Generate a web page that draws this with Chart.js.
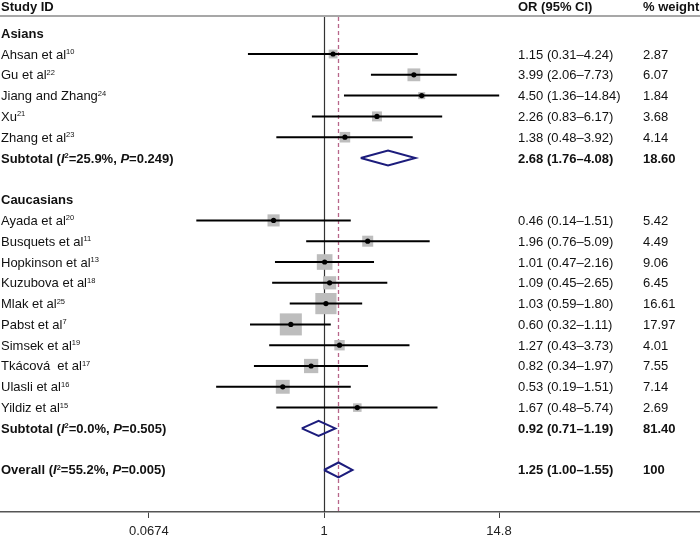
<!DOCTYPE html>
<html>
<head>
<meta charset="utf-8">
<script src="https://cdn.jsdelivr.net/npm/chart.js@4.4.1/dist/chart.umd.min.js"></script>
<style>
  body { margin: 0; background: #fff; }
  #wrap { width: 700px; height: 536px; }
</style>
</head>
<body>
<div id="wrap"><canvas id="canvas" width="700" height="536"></canvas></div>
<script>
// dane
const groups = ['Asians', 'Caucasians'];
const studyNames = ['Ahsan et al', 'Gu et al', 'Jiang and Zhang', 'Xu', 'Zhang et al',
    'Ayada et al', 'Busquets et al', 'Hopkinson et al', 'Kuzubova et al', 'Mlak et al',
    'Pabst et al', 'Simsek et al', 'Tkácová  et al', 'Ulasli et al', 'Yildiz et al'];
const studyRefs = ['10', '22', '24', '21', '23', '20', '11', '13', '18', '25', '7', '19', '17', '16', '15'];
const studyGroup = [0, 0, 0, 0, 0, 1, 1, 1, 1, 1, 1, 1, 1, 1, 1];
const studyOR = [1.15, 3.99, 4.50, 2.26, 1.38, 0.46, 1.96, 1.01, 1.09, 1.03, 0.60, 1.27, 0.82, 0.53, 1.67];
const studyLo = [0.31, 2.06, 1.36, 0.83, 0.48, 0.14, 0.76, 0.47, 0.45, 0.59, 0.32, 0.43, 0.34, 0.19, 0.48];
const studyHi = [4.24, 7.73, 14.84, 6.17, 3.92, 1.51, 5.09, 2.16, 2.65, 1.80, 1.11, 3.73, 1.97, 1.51, 5.74];
const studyWeight = [2.87, 6.07, 1.84, 3.68, 4.14, 5.42, 4.49, 9.06, 6.45, 16.61, 17.97, 4.01, 7.55, 7.14, 2.69];

const subOR = [2.68, 0.92];
const subLo = [1.76, 0.71];
const subHi = [4.08, 1.19];
const subWeight = ['18.60', '81.40'];
const subI2 = ['25.9%', '0.0%'];
const subP = ['0.249', '0.505'];

const overallOR = 1.25;
const overallLo = 1.00;
const overallHi = 1.55;
const overallWeight = '100';
const overallI2 = '55.2%';
const overallP = '0.005';

const tickValues = [0.0674, 1, 14.8];
const tickLabels = ['0.0674', '1', '14.8'];

// uklad wierszy
const rowOf = [], headerRow = [], subRow = [];
let r = 0;
groups.forEach((g, gi) => {
    headerRow[gi] = r++;
    studyGroup.forEach((sg, i) => { if (sg === gi) rowOf[i] = r++; });
    subRow[gi] = r++;
    r++;
});
const overallRow = r;

const FONT = 'Liberation Sans, Arial, Helvetica, sans-serif';
const NAVY = '#1c1c7c';
const DIAMOND_H = 0.36;

function fmt(v) { return v.toFixed(2); }
function ciText(o, l, h) { return fmt(o) + ' (' + fmt(l) + '–' + fmt(h) + ')'; }

// dane do wykresu
let dots = studyOR.map((v, i) => ({x: v, y: rowOf[i]}));
let boxes = studyOR.map((v, i) => ({x: v, y: rowOf[i], w: studyWeight[i]}));
let ciLines = [];
studyOR.forEach((v, i) => {
    ciLines.push({x: studyLo[i], y: rowOf[i]}, {x: studyHi[i], y: rowOf[i]}, {x: v, y: null});
});
function diamond(o, l, h, row) {
    return [{x: l, y: row}, {x: o, y: row - DIAMOND_H}, {x: h, y: row},
            {x: o, y: row + DIAMOND_H}, {x: l, y: row}, {x: o, y: null}];
}
let diamonds = [];
subOR.forEach((v, gi) => { diamonds = diamonds.concat(diamond(v, subLo[gi], subHi[gi], subRow[gi])); });
diamonds = diamonds.concat(diamond(overallOR, overallLo, overallHi, overallRow));

function drawRich(ctx, segs, x, y) {
    segs.forEach(s => {
        let size = s.sup ? 7.5 : 13;
        ctx.font = (s.i ? 'italic ' : '') + (s.b ? 'bold ' : '') + size + 'px ' + FONT;
        ctx.fillText(s.t, x, s.sup ? y - 4.5 : y);
        x += ctx.measureText(s.t).width;
    });
}
function hetSegs(title, i2, p) {
    return [{t: title + ' (', b: 1}, {t: 'I', b: 1, i: 1}, {t: '2', b: 1, sup: 1},
            {t: '=' + i2 + ', ', b: 1}, {t: 'P', b: 1, i: 1}, {t: '=' + p + ')', b: 1}];
}

const forestPlugin = {
    id: 'forestPlugin',
    beforeDatasetsDraw(chart) {
        const {ctx, chartArea, scales: {x}} = chart;
        ctx.save();
        // linia pod naglowkiem
        ctx.strokeStyle = '#8a8a8a';
        ctx.lineWidth = 1.5;
        ctx.beginPath();
        ctx.moveTo(0, chartArea.top - 1);
        ctx.lineTo(chart.width, chartArea.top - 1);
        ctx.stroke();
        // linia OR = 1
        let x1 = Math.round(x.getPixelForValue(1)) + 0.5;
        ctx.strokeStyle = '#333';
        ctx.lineWidth = 1.2;
        ctx.beginPath();
        ctx.moveTo(x1, chartArea.top);
        ctx.lineTo(x1, chartArea.bottom);
        ctx.stroke();
        // linia przerywana - overall
        let xo = Math.round(x.getPixelForValue(overallOR)) + 0.5;
        ctx.strokeStyle = '#b8668a';
        ctx.lineWidth = 1.3;
        ctx.setLineDash([4, 3]);
        ctx.beginPath();
        ctx.moveTo(xo, chartArea.top);
        ctx.lineTo(xo, chartArea.bottom);
        ctx.stroke();
        ctx.restore();
    },
    afterDraw(chart) {
        const {ctx, chartArea, scales: {y}} = chart;
        const colOR = 518, colW = 643;
        const base = row => y.getPixelForValue(row) + 4.5;
        ctx.save();
        ctx.fillStyle = '#111';
        ctx.textBaseline = 'alphabetic';
        // naglowki
        let hb = chartArea.top - 6.5;
        drawRich(ctx, [{t: 'Study ID', b: 1}], 1, hb);
        drawRich(ctx, [{t: 'OR (95% CI)', b: 1}], colOR, hb);
        drawRich(ctx, [{t: '% weight', b: 1}], colW, hb);
        groups.forEach((g, gi) => {
            drawRich(ctx, [{t: g, b: 1}], 1, base(headerRow[gi]));
            drawRich(ctx, hetSegs('Subtotal', subI2[gi], subP[gi]), 1, base(subRow[gi]));
            drawRich(ctx, [{t: ciText(subOR[gi], subLo[gi], subHi[gi]), b: 1}], colOR, base(subRow[gi]));
            drawRich(ctx, [{t: subWeight[gi], b: 1}], colW, base(subRow[gi]));
        });
        studyNames.forEach((n, i) => {
            let b = base(rowOf[i]);
            drawRich(ctx, [{t: n}, {t: studyRefs[i], sup: 1}], 1, b);
            drawRich(ctx, [{t: ciText(studyOR[i], studyLo[i], studyHi[i])}], colOR, b);
            drawRich(ctx, [{t: fmt(studyWeight[i])}], colW, b);
        });
        let ob = base(overallRow);
        drawRich(ctx, hetSegs('Overall', overallI2, overallP), 1, ob);
        drawRich(ctx, [{t: ciText(overallOR, overallLo, overallHi), b: 1}], colOR, ob);
        drawRich(ctx, [{t: overallWeight, b: 1}], colW, ob);
        ctx.restore();
    }
};

let ctx = document.getElementById('canvas').getContext('2d');
let config = {
    type: 'scatter',
    data: {
        datasets: [{
            label: 'OR',
            data: dots,
            pointRadius: 2.6,
            pointBackgroundColor: '#000',
            pointBorderWidth: 0
        }, {
            label: 'CI',
            data: ciLines,
            showLine: true,
            spanGaps: false,
            borderColor: '#000',
            borderWidth: 2,
            pointRadius: 0
        }, {
            label: 'weight',
            data: boxes,
            pointStyle: 'rect',
            pointRadius: c => c.raw ? 5.2 * Math.sqrt(c.raw.w) / (2 * Math.SQRT1_2) : 0,
            pointBackgroundColor: '#bdbdbd',
            pointBorderWidth: 0
        }, {
            label: 'pooled',
            data: diamonds,
            showLine: true,
            spanGaps: false,
            borderColor: NAVY,
            borderWidth: 2,
            borderJoinStyle: 'miter',
            pointRadius: 0
        }]
    },
    options: {
        responsive: false,
        animation: false,
        layout: { autoPadding: false, padding: { top: 17, left: 0, right: 0, bottom: 0 } },
        plugins: { legend: { display: false }, tooltip: { enabled: false } },
        scales: {
            x: {
                type: 'logarithmic',
                min: 0.006814,
                max: 326.8,
                afterBuildTicks: scale => { scale.ticks = tickValues.map(v => ({value: v})); },
                afterFit: scale => {
                    scale.height = 24;
                    scale.paddingLeft = 0;
                    scale.paddingRight = 0;
                },
                grid: { drawOnChartArea: false, drawTicks: true, tickLength: 6, color: '#444' },
                border: { display: true, color: '#555', width: 1.5 },
                ticks: {
                    autoSkip: false,
                    maxRotation: 0,
                    padding: 6,
                    color: '#222',
                    font: { family: FONT, size: 13 },
                    callback: (v, i) => tickLabels[i]
                }
            },
            y: {
                type: 'linear',
                reverse: true,
                min: -0.78,
                max: 23.02,
                display: false
            }
        }
    },
    plugins: [forestPlugin]
};
let chart = new Chart(ctx, config);
</script>
</body>
</html>
